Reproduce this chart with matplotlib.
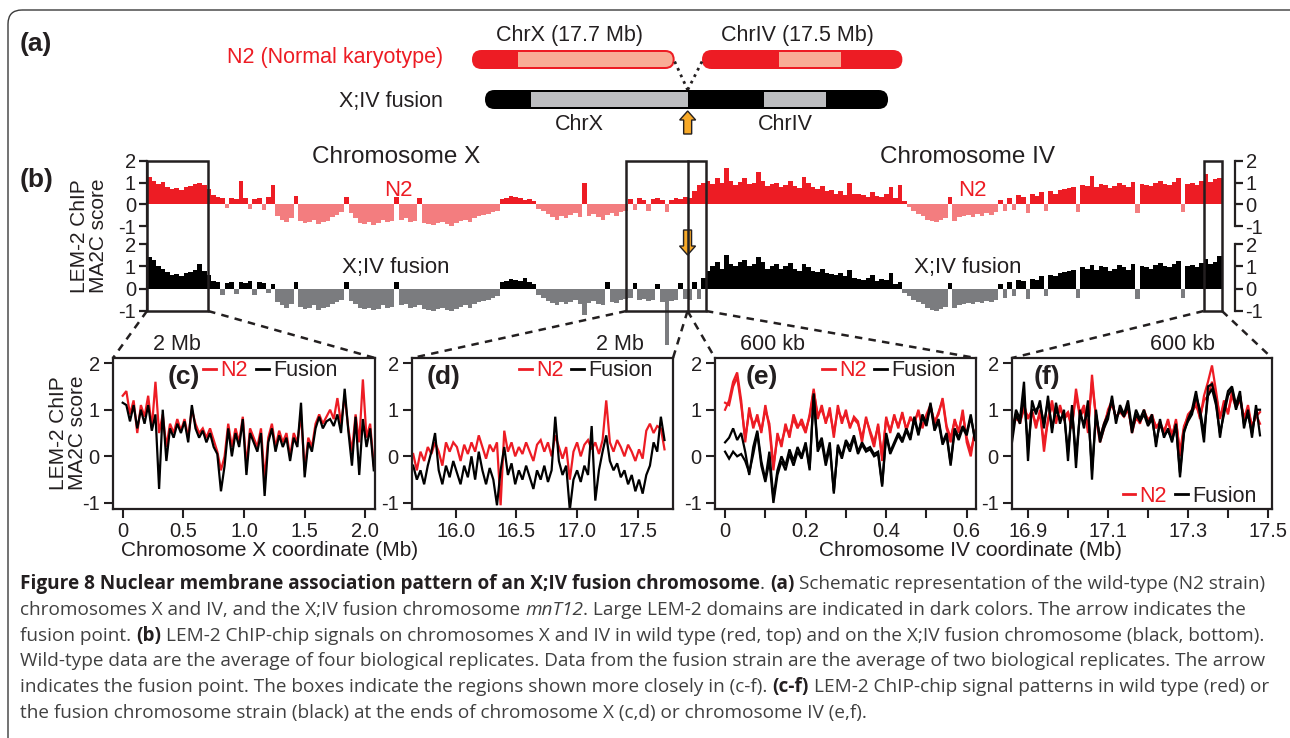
import numpy as np
import matplotlib
matplotlib.use("Agg")
import matplotlib.pyplot as plt
from matplotlib.patches import FancyBboxPatch, Rectangle, Polygon
from matplotlib.lines import Line2D

plt.rcParams['font.family'] = ['Liberation Sans', 'DejaVu Sans']
plt.rcParams['axes.unicode_minus'] = False

# ------------------------------------------------------------------ data
CHRX_LEN = 17.7
CHRIV_LEN = 17.5
x_light_domain = (4.0, 17.7)      # non-domain (light) part of chromosome X
iv_light_domain = (6.7, 12.1)     # non-domain (light) part of chromosome IV

# genome-wide LEM-2 MA2C scores (binned), chromosome X then IV
n2_chrX = [1.25, 1.1, 0.95, 1.05, 0.8, 0.7, 0.75, 0.65, 0.8, 0.85, 0.95, 1.0, 0.9, 0.7,
           0.45, 0.35, 0.3, -0.15, 0.3, 0.25, 1.1, 0.3, -0.2, 0.25, 0.3, -0.25, 0.35, 0.9,
           -0.55, -0.7, -0.8, -0.65, 0.4, -0.75, -0.85, -0.8, -0.7, -0.9, -0.8, -0.75, -0.6,
           -0.5, -0.35, 0.35, -0.4, -0.65, -0.85, -0.9, -0.8, -0.95, -0.85, -0.7, -0.8, -0.75,
           0.35, -0.7, -0.65, -0.8, -0.75, 0.3, -0.85, -0.9, -0.95, -0.85, -0.8, -0.9, -1.0,
           -0.85, -0.75, -0.7, -0.8, -0.65, -0.55, -0.5, -0.45, -0.35, -0.3,
           0.25, 0.3, 0.4, 0.35, 0.3, 0.2, 0.25, 0.15, -0.2, -0.3,
           -0.45, -0.6, -0.7, -0.55, -0.65, -0.5, -0.4, -0.6, 1.0, -0.55, -0.45, -0.6, -0.7,
           -0.5, -0.4, -0.55, -0.35, -0.3,
           0.25, -0.25, 0.3, 0.2, -0.3, 0.25, 0.3, 0.2, -0.35, 0.2, 0.3, 0.25, 0.35]
fus_chrX = [1.4, 1.3, 1.0, 0.9, 0.75, 0.6, 0.65, 0.55, 0.7, 0.75, 0.85, 1.1, 0.8, 0.6,
            0.35, 0.3, -0.3, 0.25, 0.3, -0.25, 0.3, 0.25, 0.35, -0.3, 0.3, 0.25, -0.2, 0.2,
            -0.6, -0.75, -0.85, -0.7, 0.3, -0.8, -0.9, -0.85, -0.75, -0.95, -0.85, -0.8, -0.7,
            -0.6, -0.5, 0.3, -0.55, -0.7, -0.85, -0.9, -0.85, -0.95, -0.9, -0.75, -0.85, -0.8,
            0.3, -0.75, -0.7, -0.85, -0.8, -0.75, -0.9, -0.95, -1.0, -0.9, -0.85, -0.95, -1.0,
            -0.9, -0.8, -0.75, -0.85, -0.7, -0.6, -0.55, -0.5, -0.4, -0.35,
            0.3, 0.35, 0.45, 0.4, 0.35, 0.5, 0.3, 0.2, -0.3, -0.4,
            -0.55, -0.65, -0.75, -0.6, -0.7, -0.6, -0.5, -0.7, -1.2, -0.65, -0.55, -0.7, -0.75,
            0.3, -0.6, -0.65, -0.5, -0.45,
            -0.4, 0.25, -0.5, -0.45, -0.55, -0.5, 0.2, -0.6, -2.5, -0.55, -0.5, 0.25, -0.45]
n2_chrIV = [0.3, 0.6, 0.9, 1.0,
            1.1, 0.95, 1.2, 1.0, 1.7, 1.1, 0.9, 1.05, 1.2, 0.95, 1.0, 1.5, 1.1, 0.85, 0.95,
            1.0, 0.8, 0.9, 1.1, 0.85, 0.75, 1.25, 1.0, 0.8, 0.7, 0.85, 0.6, 0.65, 0.5, 0.6,
            0.45, 1.0, 0.5,
            0.5, 0.45, 0.35, 0.55, 0.4, 0.35, 0.5, 0.8, 0.3, 0.9,
            0.15, -0.1, -0.3, -0.45, -0.55, -0.7, -0.75, -0.8, -0.7, -0.65, 0.35, -0.75, -0.6,
            -0.55, -0.5, -0.6, -0.45, -0.55, -0.4, -0.5, -0.35, 0.2, -0.3,
            0.3, -0.25, 0.45, 0.35, -0.4, 0.5, 0.4, 0.55, -0.3, 0.6, 0.5, 0.65, 0.7,
            0.75, 0.8, -0.35, 0.9, 0.85, 1.3, 0.8, 0.95, 0.9, 0.75, 0.85, 1.0, 0.9, 0.8, 1.05,
            -0.4, 0.95, 0.9, 0.85, 1.0, 1.1, 0.95, 0.9, 1.05, 1.2, -0.35, 0.95, 1.0, 0.9, 1.1,
            1.4, 1.05, 1.15, 1.2]
fus_chrIV = [-0.5, 0.3, -0.45, 0.5,
             0.8, 1.0, 1.2, 0.9, 1.5, 1.1, 1.0, 1.2, 1.3, 1.0, 1.1, 1.4, 1.2, 0.9, 1.0, 1.1,
             0.9, 1.0, 1.15, 0.9, 0.8, 1.1, 0.95, 0.8, 0.75, 0.9, 0.7, 0.65, 0.6, 0.7, 0.55,
             0.85, 0.5,
             0.45, 0.4, 0.5, 0.6, 0.35, 0.45, 0.4, 0.7, 0.2, 0.3,
             -0.2, -0.35, -0.5, -0.6, -0.7, -0.85, -0.95, -1.0, -0.9, -0.8, 0.25, -0.85, -0.75,
             -0.7, -0.65, -0.7, -0.6, -0.65, -0.55, -0.6, -0.5, 0.2, -0.4,
             0.3, -0.35, 0.4, 0.35, -0.45, 0.45, 0.4, 0.55, -0.35, 0.6, 0.55, 0.7, 0.75,
             0.8, 0.85, -0.4, 0.95, 0.9, 1.05, 0.85, 1.0, 0.95, 0.8, 0.9, 1.05, 0.95, 0.85, 1.1,
             -0.45, 1.0, 0.95, 0.9, 1.05, 1.15, 1.0, 0.95, 1.1, 1.25, -0.4, 1.0, 1.05, 0.95,
             1.15, 1.35, 1.1, 1.2, 1.45]

# close-ups (c)-(f): Mb ranges of the probes and scores
c_range = (0.0, 2.07)
c_n2 = [1.3, 1.4, 0.9, 1.2, 0.5, 1.1, 0.85, 1.3, 0.6, 1.6,
        0.5, 0.9, 0.2, 0.7, 0.5, 0.8, 0.55, 0.8, 0.4, 1.0,
        0.7, 0.5, 0.6, 0.4, 0.6, 0.35, 0.1, -0.3, 0.0, 0.7,
        0.2, 0.6, 0.3, 0.85, -0.2, 0.6, 0.4, 0.2, 0.6, -0.5,
        0.4, 0.7, 0.2, 0.55, 0.3, 0.5, 0.0, 0.5, 0.3, 0.9,
        -0.3, 0.4, 0.2, 0.7, 0.9, 0.7, 0.85, 1.0, 0.8, 1.25,
        0.7, 1.3, 0.6, 0.1, 0.9, 0.3, 1.65, 0.4, 0.7, -0.2]
c_fus = [1.15, 1.1, 0.75, 1.1, 0.6, 1.0, 0.7, 1.1, 0.55, 0.9,
         -0.7, 1.0, -0.1, 0.6, 0.4, 0.7, 0.5, 0.75, 0.3, 1.1,
         0.6, 0.4, 0.55, 0.3, 0.5, 0.2, 0.05, -0.75, -0.2, 0.6,
         0.0, 0.5, 0.2, 0.8, -0.4, 0.5, 0.3, 0.1, 0.5, -0.85,
         0.3, 0.6, 0.1, 0.45, 0.2, 0.4, -0.1, 0.4, 0.2, 1.15,
         -0.45, 0.3, 0.1, 0.6, 0.85, 0.6, 0.75, 0.8, 0.65, 0.9,
         0.5, 1.45, 0.55, -0.2, 0.85, -0.4, 0.8, 0.2, 0.6, -0.3]

d_range = (15.65, 17.72)
d_n2 = [0.05, -0.3, 0.1, -0.1, 0.2, 0.05, 0.3, 0.1, -0.2, 0.3,
        0.1, 0.3, 0.2, -0.1, 0.25, 0.05, 0.3, 0.1, 0.45, 0.2,
        -0.05, 0.25, 0.1, 0.3, -1.05, 0.55, 0.1, 0.3, 0.0, 0.2,
        0.05, 0.3, 0.1, -0.1, 0.25, 0.35, 0.1, 0.3, 0.0, 0.45,
        0.2, -0.05, 0.2, -0.5, 0.1, 0.3, 0.0, 0.25, 0.35, 0.15,
        0.3, 0.05, 0.35, 1.2, 0.3, 0.1, 0.35, 0.2, 0.0, 0.25,
        0.1, -0.1, 0.15, -0.05, 0.55, 0.7, 0.5, 0.65, 0.6, 0.15]
d_fus = [-0.2, -0.5, -0.3, -0.6, -0.2, 0.1, 0.5, -0.3, -0.6, -0.2,
         -0.45, -0.1, -0.35, -0.6, -0.2, -0.45, 0.0, -0.5, 0.1, -0.3,
         -0.6, -0.25, -0.5, -1.05, -0.3, 0.2, -0.4, -0.15, -0.6, -0.3,
         -0.5, -0.2, -0.45, -0.7, -0.3, -0.5, -0.2, -0.55, -0.3, 0.85,
         -0.1, -0.4, -0.2, -1.15, -0.5, -0.3, -0.55, -0.2, -0.4, 0.65,
         -0.95, -0.3, 0.1, 0.45, -0.1, -0.3, -0.15, -0.45, -0.3, -0.6,
         -0.4, -0.75, -0.5, -0.8, -0.4, -0.2, 0.3, 0.1, 0.85, 0.35]

e_range = (0.0, 0.62)
e_n2_a = [1.0, 1.2, 1.6, 1.8, 1.2, 0.3, 1.05, 0.6, 0.9, 0.5, 1.1, 0.6, -0.3, 0.5, 0.2,
          0.7, 0.4, 0.9, 0.65, 0.7, 0.5, 0.9, 1.45, 0.8, 1.1, 0.7, 1.05, 0.4, 1.1, 0.7,
          1.0, 0.6, 0.85, 0.75, 0.3, 0.85, 0.5, 0.2, 0.7, -0.1, 0.85, 0.5, 0.9, 0.6, 0.95,
          0.55, 0.85, 0.7, 1.0, 0.6, 0.9, 1.1, 0.7, 0.95, 1.2, 0.6, 0.3, 0.8, 0.5, 1.0,
          0.3, 0.0, 0.55]
e_n2_b = [1.15, 1.1, 1.5, 1.7, 1.1, 0.4, 0.95, 0.7, 0.8, 0.55, 1.0, 0.7, -0.2, 0.4, 0.3,
          0.6, 0.5, 0.8, 0.6, 0.8, 0.55, 0.85, 1.4, 0.9, 1.0, 0.75, 0.95, 0.5, 1.0, 0.8,
          0.9, 0.65, 0.8, 0.7, 0.4, 0.8, 0.55, 0.3, 0.65, 0.0, 0.8, 0.55, 0.85, 0.65, 0.9,
          0.6, 0.8, 0.75, 0.95, 0.65, 0.85, 1.05, 0.75, 0.9, 1.25, 0.65, 0.4, 0.75, 0.55,
          0.9, 0.4, 0.1, 0.5]
e_fus_a = [0.3, 0.4, 0.6, 0.35, 0.5, 0.1, -0.4, 0.2, 0.55, -0.1, -0.5, 0.1, -0.9, -0.3,
           0.0, -0.2, 0.15, -0.1, 0.2, 0.0, 0.3, -0.25, 1.35, 0.2, 0.4, -0.1, 0.3, -0.8,
           0.25, 0.0, 0.35, 0.2, 0.45, 0.1, 0.3, 0.15, 0.2, 0.05, 0.1, -0.6, 0.5, 0.1, 0.3,
           0.5, 0.35, 0.6, 0.4, 0.85, 0.5, 0.9, 0.7, 1.15, 0.6, 0.8, 0.3, 0.5, -0.15, 0.6,
           0.4, 0.65, 0.5, 0.9, 0.35]
e_fus_b = [0.1, -0.05, 0.1, 0.0, 0.05, -0.1, -0.35, 0.05, 0.5, -0.2, -0.55, -0.1, -1.0,
           -0.4, -0.1, -0.3, 0.05, -0.2, 0.1, -0.05, 0.25, -0.3, 1.3, 0.1, 0.3, -0.2, 0.2,
           -0.75, 0.2, -0.05, 0.3, 0.1, 0.4, 0.05, 0.25, 0.1, 0.15, 0.0, 0.05, -0.65, 0.45,
           0.05, 0.25, 0.45, 0.3, 0.55, 0.35, 0.8, 0.45, 0.85, 0.65, 1.1, 0.55, 0.75, 0.25,
           0.45, -0.2, 0.55, 0.35, 0.6, 0.45, 0.85, 0.4]

f_range = (16.86, 17.48)
f_n2_a = [0.6, 0.9, 0.7, 1.1, 0.8, 1.0, 0.6, 1.0, 0.1, 0.8, 1.2, 0.7, 1.1, 0.8, 0.9,
          0.6, 1.45, 0.9, 1.1, 0.5, 1.75, 0.8, 0.3, 0.6, 1.0, 1.2, 0.8, 1.0, 0.9, 1.1,
          0.5, 0.85, 0.7, 1.0, 0.75, 0.9, 0.6, 0.75, 0.5, 0.8, 0.4, 0.8, 0.0, 0.6, 0.9,
          1.0, 1.2, 0.8, 1.3, 1.6, 1.95, 1.4, 0.8, 1.2, 0.9, 1.4, 1.1, 1.3, 0.8, 1.1,
          0.6, 0.9, 0.7]
f_n2_b = [0.7, 0.8, 0.75, 1.0, 0.85, 0.95, 0.7, 0.9, 0.3, 0.75, 1.1, 0.8, 1.0, 0.85, 0.95,
          0.7, 1.3, 0.85, 1.0, 0.6, 1.6, 0.85, 0.4, 0.7, 0.95, 1.1, 0.85, 0.95, 0.85, 1.0,
          0.6, 0.8, 0.75, 0.95, 0.8, 0.85, 0.65, 0.7, 0.55, 0.75, 0.45, 0.75, 0.1, 0.65,
          0.85, 0.95, 1.1, 0.85, 1.2, 1.3, 1.6, 1.3, 0.85, 1.1, 0.95, 1.3, 1.05, 1.2, 0.85,
          1.0, 0.65, 0.85, 0.95]
f_fus_a = [0.5, 1.0, 0.8, 1.6, -0.1, 1.2, 0.9, 1.2, 0.6, 1.3, 0.5, 1.15, 0.7, 1.0, -0.1,
           1.1, -0.25, 1.0, 0.6, 1.2, -0.5, 1.0, 0.3, 0.6, 0.8, 1.3, 0.7, 1.1, 0.9, 1.2,
           0.6, 1.0, 0.8, 1.0, 0.7, 0.9, 0.2, 0.8, 0.4, 0.6, 0.3, 0.7, -0.45, 0.5, 0.8,
           1.0, 1.4, 0.9, 0.3, 1.5, 1.55, 1.2, 0.4, 1.0, 1.4, 1.5, 1.1, 1.4, 0.6, 1.0,
           0.4, 1.1, 0.45]
f_fus_b = [0.3, 0.9, 0.7, 1.3, 0.2, 1.0, 1.0, 1.1, 0.7, 1.2, 0.6, 1.0, 0.8, 0.9, 0.1,
           1.0, 0.0, 0.9, 0.7, 1.0, -0.3, 0.9, 0.4, 0.7, 0.9, 1.2, 0.8, 1.0, 0.85, 1.1,
           0.5, 0.9, 0.75, 0.9, 0.65, 0.8, 0.3, 0.7, 0.45, 0.55, 0.35, 0.65, -0.35, 0.55,
           0.75, 0.9, 1.3, 1.0, 0.5, 1.3, 1.45, 1.1, 0.5, 0.9, 1.3, 1.45, 1.0, 1.3, 0.7,
           0.9, 0.5, 1.0, 1.0]

# ticks / labels
overview_yticks = [2, 1, 0, -1]
overview_yticklabels = ['2', '1', '0', '-1']
zoom_yticks = [2, 1, 0, -1]
zoom_yticklabels = ['2', '1', '0', '-1']
c_xticks = [0, 0.5, 1.0, 1.5, 2.0]
c_xticklabels = ['0', '0.5', '1.0', '1.5', '2.0']
d_xticks = [16.0, 16.5, 17.0, 17.5]
d_xticklabels = ['16.0', '16.5', '17.0', '17.5']
e_xticks = [0, 0.2, 0.4, 0.6]
e_xticklabels = ['0', '0.2', '0.4', '0.6']
e_minor = [0.1, 0.3, 0.5]
f_xticks = [16.9, 17.1, 17.3, 17.5]
f_xticklabels = ['16.9', '17.1', '17.3', '17.5']
f_minor = [17.0, 17.2, 17.4]

# ------------------------------------------------------------------ style
RED = '#ed1c24'
LRED = '#f37d7f'
GRAY = '#7b7c7f'
SALMON = '#f9ad96'
LGRAY = '#bcbdc0'
ORANGE = '#f7a928'
TXT = '#231f20'

W, H = 1290, 738
fig = plt.figure(figsize=(W / 100, H / 100), dpi=100)
fig.patch.set_facecolor('white')


def px_rect(x0, y0, x1, y1):
    return [x0 / W, 1 - y1 / H, (x1 - x0) / W, (y1 - y0) / H]


ov = fig.add_axes([0, 0, 1, 1])
ov.set_xlim(0, W)
ov.set_ylim(H, 0)
ov.axis('off')
ov.set_zorder(10)

# outer rounded frame
ov.add_patch(FancyBboxPatch((8, 10), 1300, 780, boxstyle='round,pad=0,rounding_size=14',
                            fill=False, ec='#3a3a3a', lw=1.0))

# ------------------------------------------------------------------ panel (a)
S_A = 11.45  # px per Mb


def chrom_bar(x0, yc, length, h, color, light, ranges, inset=2.0):
    L = length * S_A
    ov.add_patch(FancyBboxPatch((x0, yc - h / 2), L, h,
                                boxstyle=f'round,pad=0,rounding_size={h / 2}',
                                fc=color, ec='none'))
    inner = FancyBboxPatch((x0 + inset, yc - h / 2 + inset), L - 2 * inset, h - 2 * inset,
                           boxstyle=f'round,pad=0,rounding_size={h / 2 - inset}',
                           transform=ov.transData)
    for a, b in ranges:
        r = Rectangle((x0 + a * S_A, yc - h / 2 + inset), (b - a) * S_A, h - 2 * inset,
                      fc=light, ec='none')
        ov.add_patch(r)
        r.set_clip_path(inner)


N2_Y, FUS_Y, BAR_H = 59.5, 99.5, 19
n2x_x0, n2iv_x0, fus_x0 = 472, 702, 485
chrom_bar(n2x_x0, N2_Y, CHRX_LEN, BAR_H, RED, SALMON, [x_light_domain])
chrom_bar(n2iv_x0, N2_Y, CHRIV_LEN, BAR_H, RED, SALMON, [iv_light_domain])
chrom_bar(fus_x0, FUS_Y, CHRX_LEN + CHRIV_LEN, BAR_H, 'black', LGRAY,
          [x_light_domain, (CHRX_LEN + iv_light_domain[0], CHRX_LEN + iv_light_domain[1])])
fuse_px = fus_x0 + CHRX_LEN * S_A
ov.plot([n2x_x0 + CHRX_LEN * S_A, fuse_px], [N2_Y + 2, FUS_Y - BAR_H / 2], ls=(0, (1, 1.6)),
        color=TXT, lw=2)
ov.plot([n2iv_x0, fuse_px], [N2_Y + 2, FUS_Y - BAR_H / 2], ls=(0, (1, 1.6)), color=TXT, lw=2)


def arrow(xc, y_tip, y_end, up=True):
    s = -1 if up else 1
    hb = y_tip - s * 9
    pts = [(xc, y_tip), (xc + 8, hb), (xc + 4, hb), (xc + 4, y_end), (xc - 4, y_end),
           (xc - 4, hb), (xc - 8, hb)]
    ov.add_patch(Polygon(pts, closed=True, fc=ORANGE, ec=TXT, lw=1.0, joinstyle='miter'))


arrow(fuse_px, 111, 134, up=True)

ov.text(20, 44, '(a)', fontsize=19, fontweight='bold', color=TXT, ha='left', va='center')
ov.text(570, 35, 'ChrX (17.7 Mb)', fontsize=15.5, color=TXT, ha='center', va='center')
ov.text(797, 35, 'ChrIV (17.5 Mb)', fontsize=15.5, color=TXT, ha='center', va='center')
ov.text(443, 58, 'N2 (Normal karyotype)', fontsize=15.5, color=RED, ha='right', va='center')
ov.text(443, 102, 'X;IV fusion', fontsize=15.5, color=TXT, ha='right', va='center')
ov.text(579, 125, 'ChrX', fontsize=15.5, color=TXT, ha='center', va='center')
ov.text(785, 125, 'ChrIV', fontsize=15.5, color=TXT, ha='center', va='center')

# ------------------------------------------------------------------ panel (b)
TOTAL = CHRX_LEN + CHRIV_LEN
ax_top = fig.add_axes(px_rect(147, 161, 1222, 226))
ax_bot = fig.add_axes(px_rect(147, 244, 1222, 311))
tracks = [(ax_top, n2_chrX, n2_chrIV, RED, LRED),
          (ax_bot, fus_chrX, fus_chrIV, 'black', GRAY)]
for ax, vx, viv, pc, nc in tracks:
    vx = np.asarray(vx, float)
    viv = np.asarray(viv, float)
    wx = CHRX_LEN / len(vx)
    wiv = CHRIV_LEN / len(viv)
    xs = np.concatenate([np.arange(len(vx)) * wx, CHRX_LEN + np.arange(len(viv)) * wiv])
    ws = np.concatenate([np.full(len(vx), wx), np.full(len(viv), wiv)])
    vals = np.concatenate([vx, viv])
    cols = np.where(vals >= 0, pc, nc)
    ax.bar(xs, vals, width=ws, align='edge', color=cols, linewidth=0, clip_on=False)
    ax.set_xlim(0, TOTAL)
    ax.set_ylim(-1, 2)
    ax.patch.set_alpha(0)
    for s in ['top', 'bottom']:
        ax.spines[s].set_visible(False)
    for s in ['left', 'right']:
        ax.spines[s].set_bounds(-1, 2)
        ax.spines[s].set_linewidth(1.6)
        ax.spines[s].set_color(TXT)
    ax.spines['right'].set_position(('outward', 9))
    ax.set_xticks([])
    ax.set_yticks(overview_yticks)
    ax.set_yticklabels(overview_yticklabels)
    ax.tick_params(axis='y', left=True, right=True, labelleft=True, labelright=True,
                   length=6, width=1.6, labelsize=14.5, pad=2, colors=TXT)

ov.text(20, 180, '(b)', fontsize=19, fontweight='bold', color=TXT, ha='left', va='center')
ov.text(89, 236, 'LEM-2 ChIP\nMA2C score', fontsize=15, color=TXT, rotation=90,
        ha='center', va='center', linespacing=0.95)
ov.text(396, 157, 'Chromosome X', fontsize=17.5, color=TXT, ha='center', va='center')
ov.text(968, 157, 'Chromosome IV', fontsize=17.5, color=TXT, ha='center', va='center')
ov.text(398, 191, 'N2', fontsize=16, color=RED, ha='center', va='center')
ov.text(972, 191, 'N2', fontsize=16, color=RED, ha='center', va='center')
ov.text(396, 267, 'X;IV fusion', fontsize=16, color=TXT, ha='center', va='center')
ov.text(968, 267, 'X;IV fusion', fontsize=16, color=TXT, ha='center', va='center')


def to_px(trans, x, y):
    return ov.transData.inverted().transform(trans.transform((x, y)))


boxes = [(0.0, 2.0), (CHRX_LEN - 2.0, CHRX_LEN + 0.6), (TOTAL - 0.6, TOTAL)]
box_px = []
for a, b in boxes:
    x0, y0 = to_px(ax_top.transData, a, 2)
    x1, y1 = to_px(ax_bot.transData, b, -1)
    ov.add_patch(Rectangle((x0, y0), x1 - x0, y1 - y0, fill=False, ec=TXT, lw=1.8))
    box_px.append((x0, x1, y1))
fx, fy0 = to_px(ax_top.transData, CHRX_LEN, 2)
_, fy1 = to_px(ax_bot.transData, CHRX_LEN, -1)
ov.plot([fx, fx], [fy0, fy1], color=TXT, lw=1.8)
arrow(fx, 255, 230, up=False)

# ------------------------------------------------------------------ panels (c)-(f)
ZY = (-1.13, 2.11)
ax_c = fig.add_axes(px_rect(113, 358, 375, 509))
ax_d = fig.add_axes(px_rect(412, 358, 673, 509))
ax_e = fig.add_axes(px_rect(715, 358, 976, 509))
ax_f = fig.add_axes(px_rect(1012, 358, 1272, 509))

zoom_specs = [
    (ax_c, c_range, [c_n2], [c_fus], (-0.08, 2.08), c_xticks, c_xticklabels, None,
     '(c)', 0.27, (0.345, 0.985), 'upper left'),
    (ax_d, d_range, [d_n2], [d_fus], (15.64, 17.79), d_xticks, d_xticklabels, None,
     '(d)', 0.12, (0.41, 0.985), 'upper left'),
    (ax_e, e_range, [e_n2_a, e_n2_b], [e_fus_a, e_fus_b], (-0.025, 0.623), e_xticks,
     e_xticklabels, e_minor, '(e)', 0.18, (0.41, 0.985), 'upper left'),
    (ax_f, f_range, [f_n2_a, f_n2_b], [f_fus_a, f_fus_b], (16.86, 17.51), f_xticks,
     f_xticklabels, f_minor, '(f)', 0.135, (0.425, 0.015), 'lower left'),
]
for ax, rng, n2s, fus, xl, xt, xtl, xminor, lab, labx, legpos, legloc in zoom_specs:
    for ser in n2s:
        xs = np.linspace(rng[0], rng[1], len(ser))
        ax.plot(xs, ser, color=RED, lw=1.6, solid_joinstyle='miter')
    for ser in fus:
        xs = np.linspace(rng[0], rng[1], len(ser))
        ax.plot(xs, ser, color='black', lw=1.6, solid_joinstyle='miter')
    ax.set_xlim(*xl)
    ax.set_ylim(*ZY)
    ax.set_xticks(xt)
    ax.set_xticklabels(xtl)
    if xminor is not None:
        ax.set_xticks(xminor, minor=True)
    ax.set_yticks(zoom_yticks)
    ax.set_yticklabels(zoom_yticklabels)
    for s in ax.spines.values():
        s.set_linewidth(1.6)
        s.set_color(TXT)
    ax.tick_params(which='both', direction='out', length=6.5, width=1.5, colors=TXT,
                   labelsize=14.5, pad=3)
    ax.text(labx, 0.875, lab, transform=ax.transAxes, fontsize=19, fontweight='bold',
            color=TXT, ha='center', va='center')
    handles = [Line2D([], [], color=RED, lw=2), Line2D([], [], color='black', lw=2)]
    ax.legend(handles, ['N2', 'Fusion'], ncol=2, frameon=False, fontsize=15.5,
              handlelength=0.6, handletextpad=0.2, columnspacing=0.35, borderpad=0,
              borderaxespad=0, loc=legloc, bbox_to_anchor=legpos,
              labelcolor=[RED, TXT])

ov.text(68, 433, 'LEM-2 ChIP\nMA2C score', fontsize=15, color=TXT, rotation=90,
        ha='center', va='center', linespacing=0.95)
ov.text(270, 550, 'Chromosome X coordinate (Mb)', fontsize=15, color=TXT, ha='center',
        va='center')
ov.text(970, 550, 'Chromosome IV coordinate (Mb)', fontsize=15, color=TXT, ha='center',
        va='center')
ov.text(177, 345, '2 Mb', fontsize=15.5, color=TXT, ha='center', va='center')
ov.text(620, 345, '2 Mb', fontsize=15.5, color=TXT, ha='center', va='center')
ov.text(773, 345, '600 kb', fontsize=15.5, color=TXT, ha='center', va='center')
ov.text(1182, 345, '600 kb', fontsize=15.5, color=TXT, ha='center', va='center')

# connector dashed lines from overview boxes to close-up panels
bx = box_px
links = [((bx[0][0], bx[0][2]), ax_c, 0), ((bx[0][1], bx[0][2]), ax_c, 1),
         ((bx[1][0], bx[1][2]), ax_d, 0), ((fx, fy1), ax_d, 1),
         ((fx, fy1), ax_e, 0), ((bx[1][1], bx[1][2]), ax_e, 1),
         ((bx[2][0], bx[2][2]), ax_f, 0), ((bx[2][1], bx[2][2]), ax_f, 1)]
for (sx, sy), axz, corner in links:
    tx, ty = to_px(axz.transAxes, corner, 1)
    ov.plot([sx, tx], [sy, ty], color=TXT, lw=1.8, ls=(0, (3, 2.5)))

# ------------------------------------------------------------------ caption
CAP_FAM = ['Open Sans', 'DejaVu Sans']
cap_lines = [
    [("Figure 8 Nuclear membrane association pattern of an X;IV fusion chromosome", 'b'),
     (". ", 'r'), ("(a)", 'b'),
     (" Schematic representation of the wild-type (N2 strain)", 'r')],
    [("chromosomes X and IV, and the X;IV fusion chromosome ", 'r'), ("mnT12", 'i'),
     (". Large LEM-2 domains are indicated in dark colors. The arrow indicates the", 'r')],
    [("fusion point. ", 'r'), ("(b)", 'b'),
     (" LEM-2 ChIP-chip signals on chromosomes X and IV in wild type (red, top) and on the "
      "X;IV fusion chromosome (black, bottom).", 'r')],
    [("Wild-type data are the average of four biological replicates. Data from the fusion "
      "strain are the average of two biological replicates. The arrow", 'r')],
    [("indicates the fusion point. The boxes indicate the regions shown more closely in "
      "(c-f). ", 'r'), ("(c-f)", 'b'),
     (" LEM-2 ChIP-chip signal patterns in wild type (red) or", 'r')],
    [("the fusion chromosome strain (black) at the ends of chromosome X (c,d) or "
      "chromosome IV (e,f).", 'r')],
]
renderer = fig.canvas.get_renderer()


def seg_kw(style, fs):
    kw = dict(fontsize=fs, family=CAP_FAM, color='#404040')
    if style == 'b':
        kw.update(fontweight='bold', color=TXT)
    if style == 'i':
        kw.update(style='italic')
    return kw


def measure(txt, style, fs):
    t = ov.text(0, 0, txt, **seg_kw(style, fs))
    w = t.get_window_extent(renderer).width
    t.remove()
    return w


base_fs = 12.0
ref_w = measure(cap_lines[3][0][0], 'r', base_fs)
cap_fs = base_fs * 1243.0 / ref_w
space_w = measure('a a', 'r', cap_fs) - measure('aa', 'r', cap_fs)

for k, line in enumerate(cap_lines):
    x = 20.0
    y = 589 + 25.8 * k
    for txt, style in line:
        lead = len(txt) - len(txt.lstrip(' '))
        trail = len(txt) - len(txt.rstrip(' '))
        core = txt.strip(' ')
        x += lead * space_w
        t = ov.text(x, y, core, ha='left', va='baseline', **seg_kw(style, cap_fs))
        x += t.get_window_extent(renderer).width + trail * space_w

fig.savefig('out.png', dpi=100, facecolor='white')
